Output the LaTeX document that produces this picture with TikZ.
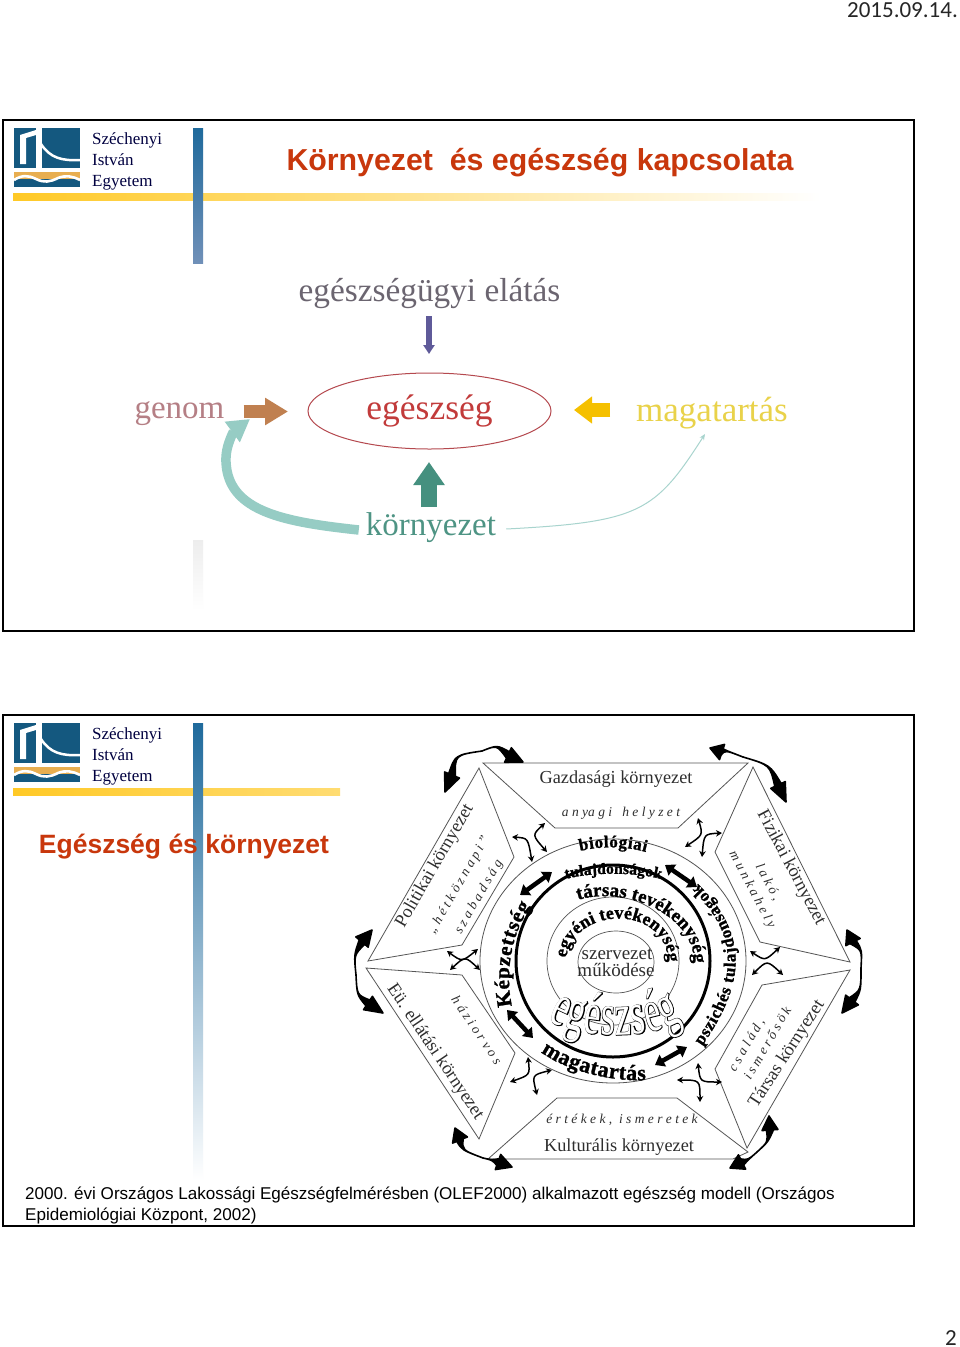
\documentclass[tikz,border=0pt]{standalone}
\usepackage{fontspec}
\setmainfont{Liberation Serif}
\newfontfamily\arialf{Liberation Sans}
\newfontfamily\calibf{Carlito}
\newfontfamily\outf[FakeBold=2,FakeStretch=0.62]{Liberation Serif}
\newfontfamily\whitef[FakeStretch=0.62]{Liberation Serif}
\newfontfamily\heavyf[FakeBold=1.2]{Liberation Serif Bold}
\usetikzlibrary{calc,arrows.meta,shapes.geometric,decorations.text}
\definecolor{logoblue}{HTML}{14587F}
\definecolor{logogold}{HTML}{E8AE50}
\definecolor{barblue}{HTML}{1F6A9C}
\definecolor{barlow}{HTML}{7090B8}
\definecolor{barmid}{HTML}{A9B8D4}
\definecolor{baryellow}{HTML}{FFC926}
\definecolor{titlered}{HTML}{C8370C}
\definecolor{hexline}{HTML}{555555}
\definecolor{hextext}{HTML}{2E2E2E}
\definecolor{tealpale}{HTML}{96CCC4}
\definecolor{tealthin}{HTML}{A8D4CE}
\definecolor{ctellatas}{HTML}{6B6570}
\definecolor{ctgenom}{HTML}{B57F85}
\definecolor{cthealth}{HTML}{C23B3B}
\definecolor{ctmagat}{HTML}{E9D24A}
\definecolor{ctkorny}{HTML}{4E9484}
\definecolor{arrpurple}{HTML}{5F5A99}
\definecolor{arrbrown}{HTML}{C08050}
\definecolor{arryellow}{HTML}{F5C000}
\definecolor{arrgreen}{HTML}{45907F}
\definecolor{ovalline}{HTML}{B5494F}
\newcommand{\fsz}[1]{\fontsize{#1}{#1}\selectfont}
% wedge half of a tapered arrow: mid point, control, base, tip, half width, head half width
\newcommand{\wedgehalf}[6]{%
  \filldraw[line width=1.6pt,line join=round] (#1) .. controls (#2) .. ($(#3)!#5pt!90:(#4)$) -- ($(#3)!#6pt!90:(#4)$) -- (#4)
     -- ($(#3)!#6pt!-90:(#4)$) -- ($(#3)!#5pt!-90:(#4)$) .. controls (#2) .. cycle;}
\newcommand{\ringtext}[3]{%
  \path[decorate,decoration={text along path,text align={fit to path},
     text={|\fsz{#1}\heavyf|#2}}] #3;}
\tikzset{
  frame/.style={draw=black,line width=2pt,fill=white},
  logotext/.style={anchor=west,inner sep=0,text=black!75!blue,font=\fsz{17}},
  slidetitle/.style={inner sep=0,text=titlered,font=\arialf\bfseries},
  dtext/.style={inner sep=0,font=\fsz{33}},
  hexside/.style={draw=hexline,line width=0.8pt},
  hexlabel/.style={inner sep=0,text=hextext,font=\fsz{18.3}},
  hexsub/.style={inner sep=0,text=hextext,font=\itshape\fsz{13.5}},
  smallarrow/.style={line width=1.5pt,{Stealth[length=6pt,width=6.5pt]}-{Stealth[length=6pt,width=6.5pt]}},
  ringarrow/.style={line width=4.5pt,{Triangle[length=9pt,width=13pt]}-{Triangle[length=9pt,width=13pt]}},
  logo/.pic={
    \fill[logoblue] (0,0) rectangle (22,39.5);
    \fill[white] (6,36) -- (6,7) -- (22,2) -- (22,7) -- (12,10) -- (12,36) -- cycle;
    \fill[logoblue] (28,0) rectangle (65.5,40);
    \draw[white,line width=2.5pt] (27,16) .. controls (36,30) and (48,33) .. (66,32);
    \fill[logogold] (0,44) rectangle (65.5,51);
    \fill[logoblue] (0,51) rectangle (65.5,59);
    \draw[white,line width=2.6pt] (0,52) .. controls (8,47) and (14,47) .. (22,51) .. controls (30,55) and (36,54) .. (44,50) .. controls (52,47) and (58,48) .. (66,52);
    \node[logotext] (t1) at (78,12) {Széchenyi};
    \node[logotext] (t2) at (78,31.5) {István};
    \node[logotext] (t3) at (78,55) {Egyetem};
  }
}
\begin{document}
\begin{tikzpicture}[x=1pt,y=-1pt]
\useasboundingbox (0,0) rectangle (960,1347);
\fill[white] (0,0) rectangle (960,1347);
\node[inner sep=0,anchor=east,text=black!85,font=\calibf\fsz{23}] (date) at (958,10.5) {2015.09.14.};
\node[inner sep=0,anchor=east,text=black!85,font=\calibf\fsz{23}] (pageno) at (957,1338) {2};

% ---- slide 1
\path[frame] (3,120) rectangle (914,631);
\pic (logoA) at (14,128) {logo};
\shade[left color=baryellow,right color=white] (13,193) rectangle (820,200);
\shade[top color=barblue,bottom color=barlow] (193,128) rectangle (203,263);
\shade[top color=black!7,bottom color=white] (193,540) rectangle (203,610);
\node[slidetitle,font=\arialf\bfseries\fsz{30.3}] (titleA) at (540,162.5) {Környezet\ \ és egészség kapcsolata};

\node[dtext,text=ctellatas,font=\fsz{33.3}] (ellatas) at (429.5,294) {egészségügyi elátás};
\node[dtext,text=ctgenom] (genom) at (179.5,413.5) {genom};
\node[dtext,text=ctmagat,font=\fsz{35}] (magatartas) at (712,413) {magatartás};
\node[ellipse,draw=ovalline,line width=1pt,minimum width=243pt,minimum height=76pt,inner sep=0,text=cthealth,font=\fsz{35.5}] (egeszseg) at (429.5,411) {\raisebox{-2.5pt}{egészség}};
\node[dtext,text=ctkorny] (kornyezet) at (431,528) {környezet};

\coordinate (pa) at (429,316); \coordinate (pb) at (429,354);
\coordinate (ga) at (243.5,411.5); \coordinate (gb) at (288,411.5);
\coordinate (ya) at (610,410); \coordinate (yb) at (574,410);
\coordinate (ka) at (429,507); \coordinate (kb) at (429,462);
\coordinate (ma) at (705,434);
\coordinate (gt) at (250,419);
\draw[draw=arrpurple,line width=6.5pt,-{Triangle[length=9pt,width=11pt]}] (pa) -- (pb);
\draw[draw=arrbrown,line width=13pt,-{Triangle[length=23pt,width=26pt]}] (ga) -- (gb);
\draw[draw=arryellow,line width=14pt,-{Triangle[length=18pt,width=26pt]}] (ya) -- (yb);
\draw[draw=arrgreen,line width=16pt,-{Triangle[length=23pt,width=30pt]}] (ka) -- (kb);
\draw[draw=tealpale,line width=9.5pt,-{Triangle[length=22pt,width=24pt]}] ([xshift=-7pt,yshift=-2pt]kornyezet.west) .. controls (285,522) and (228,512) .. (226,462) .. controls (225,445) and (235,430) .. (gt);
\draw[draw=tealthin,line width=1pt,-{Stealth[length=6pt,width=5pt]}] ([xshift=10pt,yshift=-1pt]kornyezet.east) .. controls (640,522) and (655,512) .. (ma);

% ---- slide 2
\path[frame] (3,715) rectangle (914,1226);
\pic (logoB) at (14,723) {logo};
\shade[left color=baryellow,right color=baryellow!65] (13,788) rectangle (340,795);
\shade[top color=barblue,middle color=barmid,bottom color=white] (193,723) rectangle (203,1180);
\node[slidetitle,font=\arialf\bfseries\fsz{26.5}] (titleB) at (184,847) {Egészség és környezet};

% hexagon panels
\draw[hexside] (483,763) -- (748,763) -- (678,828) -- (555,828) -- cycle;
\draw[hexside] (479,768) -- (514,857) -- (462,945) -- (368,961) -- cycle;
\draw[hexside] (753,767) -- (850,962) -- (760,942) -- (715,852) -- cycle;
\draw[hexside] (366,968) -- (462,975) -- (515,1053) -- (479,1139) -- cycle;
\draw[hexside] (488,1159) -- (557,1098) -- (677,1098) -- (748,1152) -- (733,1159) -- cycle;
\draw[hexside] (850,970) -- (762,985) -- (715,1069) -- (747,1148) -- cycle;

\node[hexlabel] (gazd) at (616,779) {Gazdasági környezet};
\node[hexsub] (anyagi) at (621,813.5) {a n ya g i\ \ \ h e l y z e t};
\node[hexlabel,rotate=60] (polit) at (435,866) {Politikai környezet};
\node[hexsub,rotate=60] (hetk) at (459,885) {„ h é t k ö z n a p i ”};
\node[hexsub,rotate=60] (szab) at (479,897) {s z a b a d s á g};
\node[hexlabel,rotate=-62] (fiz) at (791,868) {Fizikai környezet};
\node[hexsub,rotate=-62] (lako) at (768,882) {l a k ó ,};
\node[hexsub,rotate=-62] (munka) at (752,890) {m u n k a h e l y};
\node[hexlabel,rotate=-56] (eu) at (435,1052) {Eü. ellátási környezet};
\node[hexsub,rotate=-56] (haz) at (477,1030) {h á z i o r v o s};
\node[hexlabel,rotate=57] (tars) at (787,1054) {Társas környezet};
\node[hexsub,rotate=60] (csal) at (747,1045) {c s a l á d ,};
\node[hexsub,rotate=60] (ism) at (767,1043) {i s m e r ő s ö k};
\node[hexsub] (ertek) at (622,1119.5) {é r t é k e k ,\ \ i s m e r e t e k};
\node[hexlabel] (kult) at (619,1147) {Kulturális környezet};

% tapered corner arrows
\wedgehalf{482,751}{455,755}{452,775}{445,792}{3.5}{8}
\wedgehalf{482,751}{497,745}{508,755}{523,762}{3.5}{8}
\wedgehalf{743,757}{770,765}{778,785}{786,802}{3.5}{8}
\wedgehalf{743,757}{725,750}{722,752}{710,748}{3.5}{8}
\wedgehalf{861,968}{862,950}{853,942}{847,930}{3.5}{8}
\wedgehalf{861,968}{861,990}{852,1000}{842,1013}{3.5}{8}
\wedgehalf{757,1152}{768,1142}{770,1130}{769,1116}{3.5}{8}
\wedgehalf{757,1152}{748,1160}{742,1162}{730,1168}{3.5}{8}
\wedgehalf{483,1158}{462,1150}{460,1140}{455,1128}{3.5}{8}
\wedgehalf{483,1158}{492,1160}{498,1162}{512,1167}{3.5}{8}
\wedgehalf{356,975}{354,955}{362,942}{372,930}{3.5}{8}
\wedgehalf{356,975}{357,995}{368,1003}{383,1013}{3.5}{8}

% small linking arrows
\draw[smallarrow] (512,837) .. controls (528,838) .. (532,862);
\draw[smallarrow] (545,823) .. controls (532,835) .. (547,852);
\draw[smallarrow] (698,818) .. controls (703,835) .. (685,847);
\draw[smallarrow] (722,833) .. controls (704,834) .. (702,857);
\draw[smallarrow] (750,951) .. controls (765,961) .. (780,947);
\draw[smallarrow] (752,975) .. controls (767,960) .. (783,975);
\draw[smallarrow] (698,1063) .. controls (700,1082) .. (722,1082);
\draw[smallarrow] (677,1080) .. controls (700,1080) .. (700,1102);
\draw[smallarrow] (528,1057) .. controls (530,1075) .. (510,1082);
\draw[smallarrow] (552,1070) .. controls (532,1075) .. (537,1095);
\draw[smallarrow] (447,951) .. controls (462,962) .. (478,949);
\draw[smallarrow] (450,970) .. controls (465,956) .. (480,970);

% rings
\coordinate (ctr) at (613,961);
\draw[hexline,line width=0.8pt] (ctr) ellipse [x radius=133pt,y radius=122pt];
\draw[black,line width=3pt] (ctr) ellipse [x radius=97pt,y radius=96pt];
\draw[hexline,line width=0.7pt] (ctr) ellipse [x radius=66pt,y radius=64pt];
\draw[hexline,line width=0.7pt] (616,962) ellipse [x radius=38pt,y radius=31pt];

\draw[ringarrow] (520,895) -- (552,872);
\draw[ringarrow] (665,865) -- (697,887);
\draw[ringarrow] (507,1010) -- (533,1038);
\draw[ringarrow] (655,1065) -- (687,1047);

\ringtext{17}{biológiai}{(580,851) .. controls (600,846) and (625,846) .. (646,852)}
\ringtext{15.6}{tulajdonságok}{(566,879) .. controls (590,872) and (635,872) .. (661,879)}
\ringtext{19}{társas tevékenység}{(578,900) .. controls (625,885) and (695,915) .. (694,963)}
\ringtext{18}{egyéni tevékenység}{(566,958) .. controls (575,905) and (665,905) .. (668,960)}
\ringtext{21}{Képzettség}{(512,1006) .. controls (505,975) and (510,935) .. (531,906)}
\ringtext{22}{magatartás}{(541,1052) .. controls (565,1070) and (610,1082) .. (646,1080)}
\ringtext{17}{pszichés tulajdonságok}{(702,1046) .. controls (745,985) and (750,935) .. (698,884)}

\path[decorate,decoration={text along path,text align={fit to path},
   text={|\fsz{60}\outf\color{black}|egészség}}] (548,1020) .. controls (580,1040) and (650,1040) .. (682,1020);
\path[decorate,decoration={text along path,text align={fit to path},
   text={|\fsz{60}\whitef\color{white}|egészség}}] (548,1020) .. controls (580,1040) and (650,1040) .. (682,1020);

\node[inner sep=0,text=hextext,font=\fsz{19}] (szerv) at (617,954) {szervezet};
\node[inner sep=0,text=hextext,font=\fsz{19}] (mukod) at (616,970) {működése};

\node[inner sep=0,anchor=north west,align=left,text=black,font=\arialf\fontsize{17.06}{21}\selectfont] (caption) at (25,1186.5)
 {2000. évi Országos Lakossági Egészségfelmérésben (OLEF2000) alkalmazott egészség modell (Országos\\Epidemiológiai Központ, 2002)};
\end{tikzpicture}
\end{document}
